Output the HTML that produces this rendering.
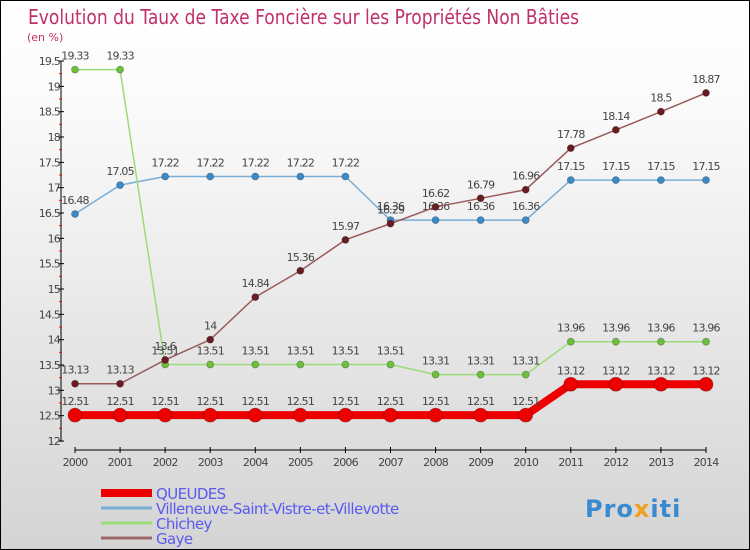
<!DOCTYPE html>
<html><head><meta charset="utf-8"><style>
body{margin:0}
#c{width:748px;height:548px;border:1px solid #000;background:linear-gradient(#fff,#fafafa 20%,#d4d4d4);position:relative;overflow:hidden;font-family:"DejaVu Sans","Liberation Sans",sans-serif}
svg text{font-family:"DejaVu Sans","Liberation Sans",sans-serif}
</style></head><body>
<div id="c">
<svg id="s" width="748" height="548">
<text x="27" y="23" font-size="20" fill="#c0306a" textLength="551" lengthAdjust="spacingAndGlyphs">Evolution du Taux de Taxe Foncière sur les Propriétés Non Bâties</text>
<text x="26" y="40" font-size="11" fill="#c0306a">(en %)</text>
</svg>
</div>
<script>
const years=[2000,2001,2002,2003,2004,2005,2006,2007,2008,2009,2010,2011,2012,2013,2014];
const yTicks=[12,12.5,13,13.5,14,14.5,15,15.5,16,16.5,17,17.5,18,18.5,19,19.5];
const queudes=[12.51,12.51,12.51,12.51,12.51,12.51,12.51,12.51,12.51,12.51,12.51,13.12,13.12,13.12,13.12];
const villeneuve=[16.48,17.05,17.22,17.22,17.22,17.22,17.22,16.36,16.36,16.36,16.36,17.15,17.15,17.15,17.15];
const chichey=[19.33,19.33,13.51,13.51,13.51,13.51,13.51,13.51,13.31,13.31,13.31,13.96,13.96,13.96,13.96];
const gaye=[13.13,13.13,13.6,14,14.84,15.36,15.97,16.29,16.62,16.79,16.96,17.78,18.14,18.5,18.87];
const ns="http://www.w3.org/2000/svg",s=document.getElementById('s');
const X=i=>74+i*(705-74)/14, Y=v=>440-(v-12)*(380/7.5);
function el(t,a,p){const e=document.createElementNS(ns,t);for(const k in a)e.setAttribute(k,a[k]);(p||s).appendChild(e);return e;}
let ax=el('line',{x1:60,y1:60,x2:60,y2:441,stroke:'#000'});


let bx=el('line',{x1:74,y1:449,x2:705,y2:449,stroke:'#000'});


yTicks.forEach(v=>{
  el('line',{x1:57,x2:63,y1:Y(v),y2:Y(v),stroke:'#000'});
  if(v<19.5) el('line',{x1:58,x2:61,y1:Y(v+0.25),y2:Y(v+0.25),stroke:'#f00'});
  const t=el('text',{x:59,y:Y(v)+4,'font-size':11,fill:'#444','text-anchor':'end','letter-spacing':'-0.8'});
  t.textContent=String(v);
  
  
});
years.forEach((y,i)=>{
  el('line',{x1:X(i),x2:X(i),y1:446,y2:452,stroke:'#000'});
  const t=el('text',{x:X(i),y:465,'font-size':11,fill:'#444','text-anchor':'middle','letter-spacing':'-0.8'});
  t.textContent=y;
  
  
});
function series(data,color,dot,w,r,name){
  const g=el('g',{});
  
  
  el('polyline',{points:data.map((v,i)=>X(i)+','+Y(v)).join(' '),fill:'none',stroke:color,'stroke-width':w},g);
  data.forEach((v,i)=>{
    const c=el('circle',{cx:X(i),cy:Y(v),r:r,fill:dot,stroke:'rgba(0,0,0,0.3)','stroke-width':0.8},g);
    
    
    const t=el('text',{x:X(i),y:Y(v)-10,'font-size':11,fill:'#444','text-anchor':'middle','letter-spacing':'-0.8'},g);
    t.textContent=String(v);
    
    
  });
}
series(villeneuve,'#7aaed6','#3b8ac8',1.5,3.5,'villeneuve');
series(chichey,'#9cdc78','#6cc03c',1.5,3.5,'chichey');
series(gaye,'#9a5a5a','#6a1c22',1.5,3.5,'gaye');
series(queudes,'#ee0000','#ee0000',8,7,'queudes');
const leg=[['QUEUDES','#ee0000',8],['Villeneuve-Saint-Vistre-et-Villevotte','#7aaed6',3],['Chichey','#9cdc78',3],['Gaye','#9a6a6a',3]];
leg.forEach((l,i)=>{
  const y=492+i*15;
  const g=el('g',{});
  
  
  el('line',{x1:100,x2:151,y1:y,y2:y,stroke:l[1],'stroke-width':l[2]},g);
  const t=el('text',{x:155,y:y+6,'font-size':15,fill:'#5a5af0','letter-spacing':'-0.6'},g);
  t.textContent=l[0];
});
const p=el('text',{x:584,y:516,'font-size':24,'font-weight':'bold',fill:'#3a8ad0','letter-spacing':'1'});
p.innerHTML='Pro<tspan fill="#f0a020">x</tspan>iti';


</script>
</body></html>
